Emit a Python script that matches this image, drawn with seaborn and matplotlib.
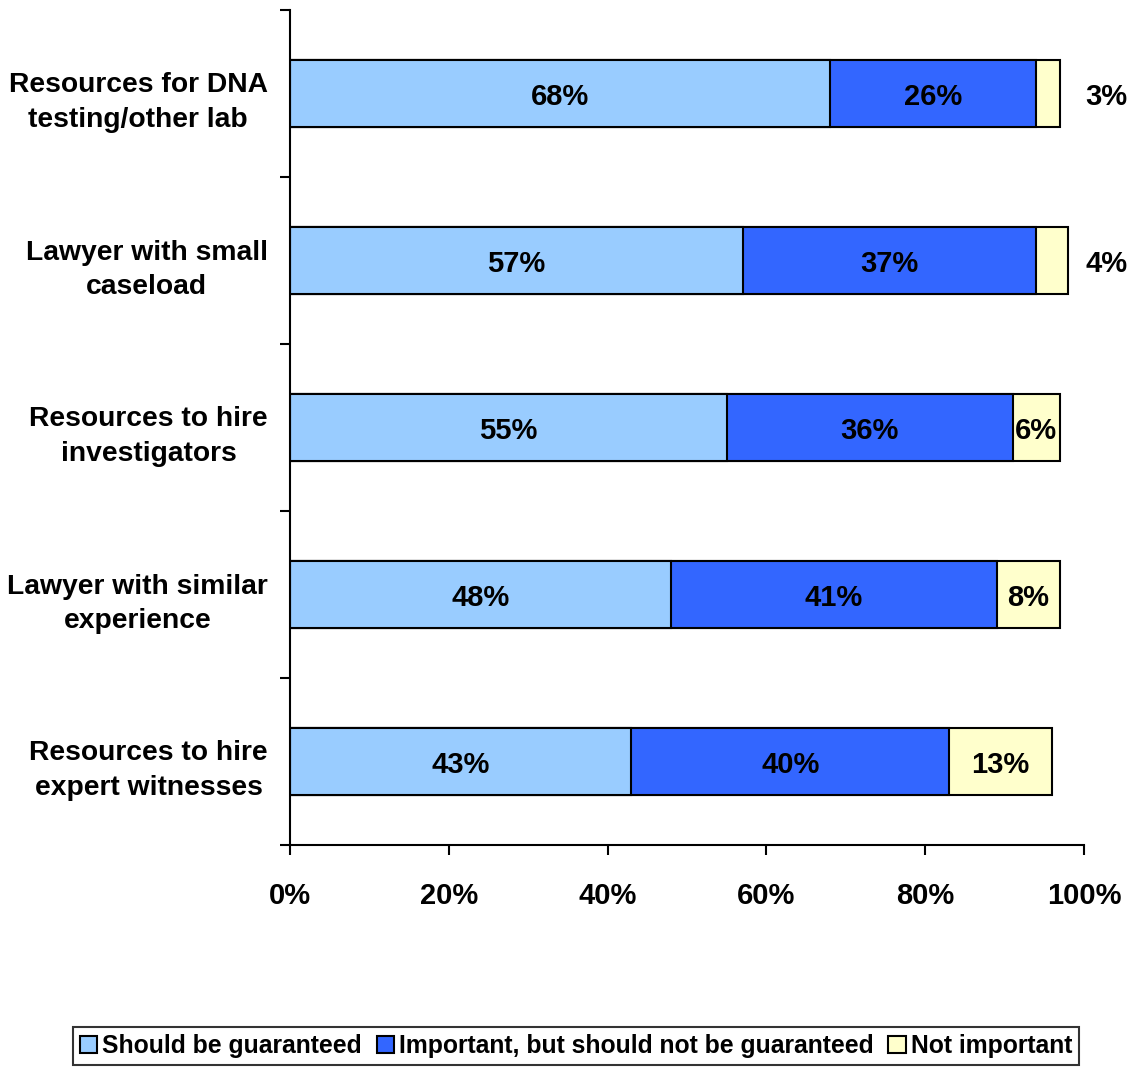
import numpy as np
import pandas as pd
import matplotlib
matplotlib.use("Agg")
import matplotlib.pyplot as plt
from matplotlib.patches import Patch
from matplotlib.transforms import ScaledTranslation
import seaborn as sns

categories = ["Resources for DNA\ntesting/other lab",
              "Lawyer with small\ncaseload",
              "Resources to hire\ninvestigators",
              "Lawyer with similar\nexperience",
              "Resources to hire\nexpert witnesses"]
guaranteed = [68, 57, 55, 48, 43]
important = [26, 37, 36, 41, 40]
not_important = [3, 4, 6, 8, 13]
series_names = ["Should be guaranteed", "Important, but should not be guaranteed", "Not important"]
x_ticks = [0, 20, 40, 60, 80, 100]

colors = ["#99CCFF", "#3366FF", "#FFFFCC"]

sns.set_theme(style="white")
plt.rcParams['font.family'] = ['Liberation Sans', 'DejaVu Sans']
plt.rcParams['font.weight'] = 'bold'
plt.rcParams['text.color'] = 'black'
plt.rcParams['xtick.color'] = 'black'
plt.rcParams['ytick.color'] = 'black'
plt.rcParams['xtick.labelcolor'] = 'black'
plt.rcParams['ytick.labelcolor'] = 'black'

df = pd.DataFrame({"cat": categories, "g": guaranteed, "i": important, "n": not_important})
df["c1"] = df["g"]
df["c2"] = df["g"] + df["i"]
df["c3"] = df["g"] + df["i"] + df["n"]

fig = plt.figure(figsize=(11.34, 10.67), dpi=100)
ax = fig.add_axes([290/1134, 1-845/1067, 794/1134, 835/1067])

for col, c in zip(["c3", "c2", "c1"], colors[::-1]):
    sns.barplot(data=df, x=col, y="cat", color=c, width=0.4, edgecolor="black",
                linewidth=1.5, saturation=1, ax=ax, orient="h")

ax.set_xlim(0, 100)
ax.set_ylim(len(categories) - 0.5, -0.5)
ax.set_xlabel("")
ax.set_ylabel("")

fs = 21
fs_cat = 20.3
down = ScaledTranslation(0, -0.035, fig.dpi_scale_trans)
down_cat = ScaledTranslation(0, -0.02, fig.dpi_scale_trans)
for idx, row in df.iterrows():
    starts = [0, row["c1"], row["c2"]]
    vals = [row["g"], row["i"], row["n"]]
    for s, v, k in zip(starts, vals, range(3)):
        if k == 2 and v < 5:
            ax.text(100.2, idx, f"{v}%", ha="left", va="center", clip_on=False,
                    fontsize=fs, fontweight="bold", color="black",
                    transform=ax.transData + down)
        else:
            ax.text(s + v / 2, idx, f"{v}%", ha="center", va="center",
                    fontsize=fs, fontweight="bold", color="black",
                    transform=ax.transData + down)

ax.set_xticks(x_ticks)
ax.set_xticklabels([f"{t}%" for t in x_ticks], fontsize=fs, fontweight="bold", color="black")
ax.tick_params(axis="x", direction="out", length=7, width=1.5, color="black", pad=20, bottom=True)

n = len(categories)
ax.set_yticks(np.arange(-0.5, n, 1.0))
ax.set_yticklabels([])
ax.set_yticks(np.arange(n), minor=True)
ax.set_yticklabels(categories, minor=True, fontsize=fs_cat, fontweight="bold",
                   multialignment="center", linespacing=1.42, color="black")
ax.tick_params(axis="y", which="major", direction="out", length=7, width=1.5, color="black", left=True)
ax.tick_params(axis="y", which="minor", length=0, pad=16, left=True)
for lab in ax.get_yticklabels(minor=True):
    lab.set_transform(lab.get_transform() + down_cat)

for s in ["top", "right"]:
    ax.spines[s].set_visible(False)
for s in ["left", "bottom"]:
    ax.spines[s].set_color("black")
    ax.spines[s].set_linewidth(1.5)
ax.grid(False)

handles = [Patch(facecolor=c, edgecolor="black", linewidth=1.5) for c in colors]
leg = fig.legend(handles, series_names, loc="center", bbox_to_anchor=(576/1134, 1-1046/1067),
                 ncol=3, frameon=True, fancybox=False, prop={"size": 17.8, "weight": "bold"},
                 handlelength=0.7, handleheight=0.7, handletextpad=0.2, columnspacing=0.6,
                 borderpad=0.3)
leg.get_frame().set_edgecolor("black")
leg.get_frame().set_linewidth(1.5)
for t in leg.get_texts():
    t.set_color("black")

fig.savefig("out.png", dpi=100)
